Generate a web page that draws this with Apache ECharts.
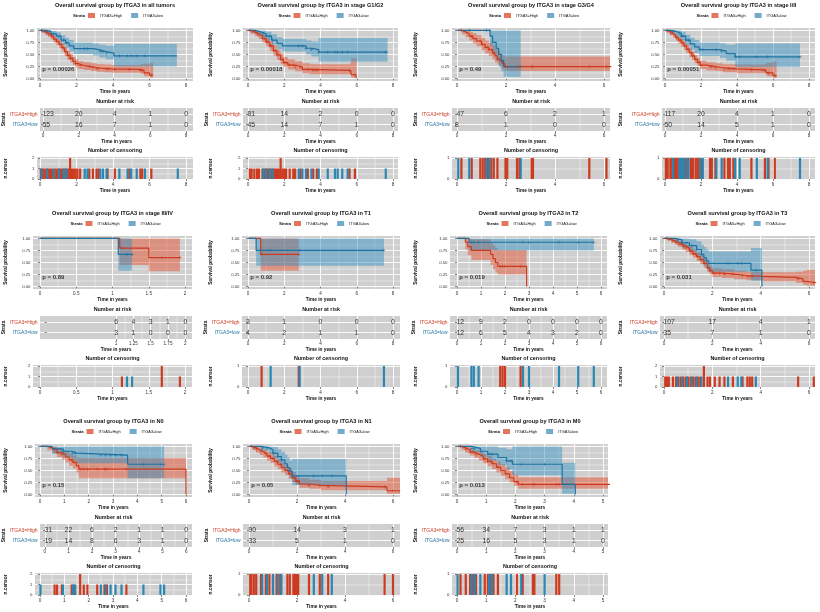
<!DOCTYPE html>
<html>
<head>
<meta charset="utf-8" />
<title>ITGA3 overall survival</title>
<script src="https://cdn.jsdelivr.net/npm/echarts@6.0.0/dist/echarts.min.js"></script>
<style>
html,body{margin:0;padding:0;background:#fff;}
#main{width:820px;height:612px;}
</style>
</head>
<body>
<div id="main"></div>
<script type="text/javascript">
var RED = '#CC3A1F', BLUE = '#1E72A0';
var RED_BAND = 'rgba(228,86,52,0.5)', BLUE_BAND = 'rgba(43,143,192,0.45)';
var FONT = 'Liberation Sans';
var PLUS = 'path://M4,0H6V4H10V6H6V10H4V6H0V4H4Z';

var titles = [
  'Overall survival group by ITGA3 in all tumors',
  'Overall survival group by ITGA3 in stage G1/G2',
  'Overall survival group by ITGA3 in stage G3/G4',
  'Overall survival group by ITGA3 in stage I/II',
  'Overall survival group by ITGA3 in stage III/IV',
  'Overall survival group by ITGA3 in T1',
  'Overall survival group by ITGA3 in T2',
  'Overall survival group by ITGA3 in T3',
  'Overall survival group by ITGA3 in N0',
  'Overall survival group by ITGA3 in N1',
  'Overall survival group by ITGA3 in M0'
];
var pvals = ['p = 0.00026', 'p = 0.00018', 'p = 0.49', 'p = 0.00051', 'p = 0.89', 'p = 0.92',
  'p = 0.019', 'p = 0.031', 'p = 0.15', 'p = 0.05', 'p = 0.013'];

var kmTicks = [
  [0, 2, 4, 6, 8], [0, 2, 4, 6, 8], [0, 2, 4, 6], [0, 2, 4, 6, 8],
  [0, 0.5, 1, 1.5, 2], [0, 2, 4, 6, 8], [0, 1, 2, 3, 4, 5, 6], [0, 2, 4, 6],
  [0, 1, 2, 3, 4, 5, 6], [0, 2, 4, 6], [0, 1, 2, 3, 4, 5]
];
var riskTicks = [
  [0, 2, 4, 6, 8], [0, 2, 4, 6, 8], [0, 2, 4, 6], [0, 2, 4, 6, 8],
  [1, 1.25, 1.5, 1.75, 2], [0, 2, 4, 6, 8], [0, 1, 2, 3, 4, 5, 6], [0, 2, 4, 6],
  [0, 1, 2, 3, 4, 5, 6], [0, 2, 4, 6], [0, 1, 2, 3, 4, 5]
];
var riskHigh = [
  [123, 20, 4, 1, 0], [81, 14, 2, 0, 0], [47, 6, 2, 1], [117, 20, 4, 1, 0],
  [6, 4, 3, 1, 0], [3, 1, 0, 0, 0], [12, 9, 2, 0, 0, 0, 0], [107, 17, 4, 1],
  [31, 22, 6, 2, 1, 1, 0], [90, 14, 3, 1], [56, 34, 7, 3, 1, 1]
];
var riskLow = [
  [55, 16, 7, 1, 0], [45, 14, 7, 1, 0], [8, 1, 0, 0], [50, 14, 5, 1, 0],
  [3, 1, 0, 0, 0], [4, 2, 1, 1, 0], [12, 6, 5, 4, 3, 2, 0], [35, 7, 1, 0],
  [19, 14, 8, 6, 3, 1, 0], [33, 5, 1, 0], [25, 16, 5, 3, 1, 0]
];
var censorMax = [2, 2, 1, 1, 2, 1, 1, 2, 2, 1, 1];

// survival curves: [time, survival, lower CI, upper CI]
var allHigh = [[0,1,1,1],[0.15,0.98,0.95,1],[0.3,0.95,0.91,0.99],[0.45,0.91,0.86,0.96],[0.6,0.87,0.81,0.93],[0.75,0.82,0.75,0.89],[0.9,0.77,0.69,0.85],[1.05,0.71,0.63,0.8],[1.2,0.64,0.56,0.73],[1.35,0.56,0.47,0.65],[1.5,0.48,0.39,0.57],[1.65,0.42,0.34,0.51],[1.8,0.36,0.28,0.45],[1.95,0.31,0.23,0.4],[2.1,0.27,0.2,0.36],[2.4,0.25,0.18,0.34],[2.8,0.23,0.16,0.32],[3.1,0.21,0.14,0.3],[3.5,0.2,0.13,0.29],[3.9,0.19,0.12,0.28],[5.5,0.17,0.1,0.3],[5.7,0.12,0.05,0.31],[6.0,0.07,0.02,0.33],[6.2,0.07,0.02,0.33]];
var allLow = [[0,1,1,1],[0.3,0.98,0.94,1],[0.6,0.93,0.87,0.99],[0.9,0.88,0.8,0.96],[1.15,0.8,0.71,0.9],[1.4,0.74,0.64,0.85],[1.6,0.68,0.57,0.8],[1.85,0.62,0.51,0.75],[2.9,0.6,0.48,0.73],[3.25,0.56,0.44,0.7],[3.6,0.53,0.4,0.68],[4.05,0.47,0.25,0.72],[7.5,0.47,0.25,0.72]];
var g12High = [[0,1,1,1],[0.2,0.97,0.93,1],[0.4,0.93,0.88,0.98],[0.6,0.89,0.82,0.96],[0.8,0.83,0.75,0.91],[1.0,0.76,0.67,0.85],[1.2,0.68,0.58,0.78],[1.4,0.58,0.48,0.69],[1.6,0.49,0.39,0.6],[1.8,0.4,0.3,0.52],[1.95,0.33,0.24,0.45],[2.2,0.28,0.19,0.4],[2.6,0.24,0.15,0.36],[3.0,0.19,0.11,0.32],[3.4,0.17,0.09,0.3],[5.65,0.16,0.08,0.34],[5.7,0.08,0.02,0.42],[5.95,0.03,0,0.42],[6.0,0.03,0,0.42]];
var g12Low = [[0,1,1,1],[0.4,0.97,0.92,1],[0.7,0.93,0.86,1],[1.0,0.88,0.79,0.97],[1.3,0.8,0.7,0.92],[1.6,0.73,0.61,0.86],[1.9,0.68,0.56,0.82],[3.2,0.63,0.5,0.79],[3.5,0.6,0.46,0.77],[3.9,0.55,0.35,0.84],[7.7,0.55,0.35,0.84]];
var g34High = [[0,1,1,1],[0.2,0.97,0.92,1],[0.35,0.93,0.86,1],[0.5,0.88,0.79,0.97],[0.65,0.83,0.73,0.94],[0.8,0.78,0.67,0.9],[1.0,0.71,0.59,0.84],[1.15,0.65,0.52,0.79],[1.3,0.6,0.47,0.75],[1.45,0.53,0.4,0.69],[1.55,0.47,0.34,0.63],[1.65,0.41,0.29,0.58],[1.75,0.36,0.24,0.53],[1.85,0.31,0.2,0.48],[1.95,0.25,0.16,0.46],[6.3,0.25,0.16,0.46]];
var g34Low = [[0,1,1,1],[1.35,0.88,0.66,1],[1.45,0.75,0.5,1],[1.6,0.63,0.37,1],[1.7,0.5,0.25,1],[1.8,0.38,0.15,1],[1.9,0.25,0.04,1],[2.6,0.25,0.04,1]];
var s12High = [[0,1,1,1],[0.15,0.98,0.95,1],[0.3,0.94,0.9,0.98],[0.45,0.9,0.85,0.95],[0.6,0.85,0.79,0.91],[0.75,0.8,0.73,0.87],[0.9,0.74,0.66,0.82],[1.05,0.68,0.6,0.77],[1.2,0.61,0.53,0.7],[1.35,0.54,0.45,0.63],[1.5,0.47,0.38,0.56],[1.65,0.4,0.32,0.49],[1.8,0.34,0.26,0.43],[1.95,0.28,0.2,0.37],[2.3,0.25,0.17,0.34],[2.8,0.23,0.16,0.32],[3.2,0.2,0.13,0.3],[4.0,0.18,0.11,0.29],[5.55,0.17,0.1,0.31],[5.65,0.12,0.05,0.33],[6.0,0.06,0.01,0.36],[6.2,0.06,0.01,0.36]];
var s12Low = [[0,1,1,1],[0.3,0.98,0.94,1],[0.6,0.94,0.87,1],[0.9,0.88,0.79,0.97],[1.15,0.8,0.69,0.91],[1.4,0.72,0.6,0.85],[1.65,0.66,0.53,0.8],[1.9,0.6,0.47,0.75],[3.05,0.57,0.43,0.73],[3.4,0.52,0.37,0.7],[3.9,0.45,0.24,0.73],[7.5,0.45,0.24,0.73]];
var s34High = [[0,1,1,1],[1.1,0.8,0.45,1],[1.5,0.6,0.32,1],[1.93,0.6,0.32,1]];
var s34Low = [[0,1,1,1],[1.08,0.67,0.33,1],[1.27,0.67,0.33,1]];
var t1High = [[0,1,1,1],[0.7,0.67,0.33,1],[2.8,0.67,0.33,1]];
var t1Low = [[0,1,1,1],[0.45,0.75,0.43,1],[7.5,0.75,0.43,1]];
var t2High = [[0,1,1,1],[0.35,0.92,0.77,1],[0.45,0.83,0.65,1],[0.6,0.75,0.55,0.98],[1.4,0.67,0.45,0.92],[1.5,0.58,0.36,0.86],[1.6,0.5,0.29,0.8],[1.7,0.42,0.25,0.76],[2.9,0,0,0]];
var t2Low = [[0,1,1,1],[0.5,0.92,0.75,1],[5.7,0.92,0.75,1]];
var t3High = [[0,1,1,1],[0.15,0.98,0.95,1],[0.3,0.95,0.91,0.99],[0.45,0.92,0.87,0.97],[0.6,0.88,0.82,0.94],[0.75,0.84,0.77,0.91],[0.9,0.8,0.72,0.87],[1.05,0.74,0.66,0.82],[1.2,0.68,0.6,0.77],[1.35,0.62,0.53,0.71],[1.5,0.56,0.47,0.65],[1.65,0.48,0.39,0.58],[1.8,0.39,0.3,0.49],[1.9,0.33,0.25,0.43],[2.0,0.28,0.2,0.38],[2.4,0.26,0.18,0.36],[2.9,0.23,0.15,0.33],[3.4,0.21,0.13,0.31],[4.1,0.19,0.11,0.3],[5.45,0.16,0.08,0.31],[5.75,0.11,0.04,0.33],[5.9,0.08,0.02,0.35],[6.3,0.08,0.02,0.35]];
var t3Low = [[0,1,1,1],[0.45,0.97,0.91,1],[0.75,0.91,0.81,1],[1.05,0.85,0.72,0.98],[1.35,0.77,0.62,0.94],[1.55,0.67,0.51,0.87],[1.65,0.6,0.43,0.82],[1.75,0.53,0.36,0.77],[1.85,0.48,0.31,0.73],[3.6,0.34,0.12,0.8],[4.05,0,0,0]];
var n0High = [[0,1,1,1],[0.3,0.97,0.92,1],[0.5,0.93,0.86,1],[0.7,0.87,0.78,0.96],[0.9,0.83,0.73,0.93],[1.05,0.78,0.67,0.9],[1.2,0.72,0.6,0.85],[1.35,0.67,0.54,0.81],[1.5,0.6,0.46,0.77],[1.6,0.53,0.34,0.76],[6.0,0,0,0]];
var n0Low = [[0,1,1,1],[0.5,0.95,0.85,1],[0.95,0.9,0.77,1],[1.3,0.86,0.71,1],[1.5,0.82,0.65,1],[3.6,0.63,0.34,1],[5.1,0.63,0.34,1]];
var n1High = [[0,1,1,1],[0.15,0.97,0.93,1],[0.3,0.93,0.87,0.99],[0.45,0.89,0.82,0.96],[0.6,0.85,0.77,0.93],[0.75,0.8,0.71,0.89],[0.9,0.75,0.66,0.85],[1.05,0.69,0.59,0.8],[1.2,0.63,0.53,0.74],[1.35,0.56,0.46,0.67],[1.5,0.5,0.4,0.62],[1.65,0.43,0.33,0.55],[1.8,0.35,0.26,0.47],[1.95,0.28,0.2,0.4],[2.1,0.22,0.14,0.34],[2.5,0.19,0.12,0.31],[3.0,0.16,0.09,0.28],[5.75,0.08,0.02,0.35],[6.3,0.08,0.02,0.35]];
var n1Low = [[0,1,1,1],[0.5,0.97,0.91,1],[0.85,0.93,0.84,1],[1.0,0.86,0.75,0.99],[1.2,0.79,0.66,0.94],[1.35,0.72,0.58,0.89],[1.5,0.64,0.49,0.83],[1.6,0.56,0.41,0.77],[1.7,0.48,0.33,0.7],[1.8,0.39,0.2,0.74],[4.05,0,0,0]];
var m0High = [[0,1,1,1],[0.15,0.97,0.93,1],[0.3,0.93,0.87,0.99],[0.45,0.88,0.81,0.95],[0.6,0.84,0.76,0.92],[0.75,0.8,0.71,0.89],[0.9,0.74,0.65,0.84],[1.05,0.69,0.59,0.8],[1.2,0.64,0.53,0.75],[1.35,0.57,0.46,0.69],[1.5,0.5,0.39,0.63],[1.65,0.43,0.32,0.56],[1.8,0.35,0.25,0.49],[1.95,0.27,0.18,0.41],[2.1,0.21,0.12,0.36],[5.3,0.21,0.12,0.36]];
var m0Low = [[0,1,1,1],[0.5,0.96,0.88,1],[0.8,0.9,0.78,1],[1.05,0.84,0.7,1],[1.4,0.77,0.61,0.97],[1.7,0.7,0.52,0.94],[1.9,0.63,0.4,1],[3.6,0.21,0.02,0.66],[4.05,0,0,0]];

// censoring times (n = 1 unless given as [time, n])
var allHighCens = [0.05,0.15,0.25,0.35,0.45,0.55,0.65,0.8,0.9,1.0,1.1,1.2,1.3,1.4,1.5,1.6,[1.65,2],1.75,1.85,1.95,2.05,2.2,2.7,2.9,3.1,3.2,3.7,4.1,4.9,5.5,5.6,6.1];
var allLowCens = [0.08,0.4,0.75,1.05,1.3,1.45,2.45,2.6,3.3,3.45,3.65,4.35,4.8,5.0,5.3,5.75,7.55];
var g12HighCens = [0.1,0.2,0.35,0.5,0.6,0.8,0.9,1.0,1.1,1.2,1.3,1.4,1.5,1.6,1.7,[1.8,2],1.9,2.0,2.1,2.3,2.5,2.6,2.9,3.3,3.6,3.8,5.6,5.9];
var g12LowCens = [0.85,1.0,1.2,1.35,2.8,3.0,3.2,3.5,3.9,4.4,4.8,4.95,5.2,5.5,7.6];
var g34HighCens = [0.18,0.6,0.95,1.05,1.15,1.25,1.3,1.4,1.5,1.65,1.98,2.05,2.45,2.55,3.05,3.1,5.4,6.1];
var g34LowCens = [0.05,0.5,1.2,1.33,2.6];
var s12HighCens = [0.05,0.15,0.3,0.4,0.55,0.65,0.75,0.85,1.0,1.1,1.2,1.3,1.45,1.55,1.7,1.8,1.9,2.0,2.5,2.6,2.8,3.3,3.5,3.6,3.8,4.8,5.55,5.75,6.1];
var s12LowCens = [0.45,0.8,0.9,1.0,1.15,1.3,1.95,2.1,2.85,3.15,3.9,4.15,5.1,5.7,7.5];
var s34HighCens = [1.13,[1.68,2],1.93];
var s34LowCens = [1.2,1.27];
var t1HighCens = [0.75,2.8];
var t1LowCens = [1.25,2.85,7.5];
var t2HighCens = [1.8,1.9,2.0,2.65];
var t2LowCens = [0.04,0.6,0.7,0.9,2.75,3.0,4.25,5.05,5.7];
var t3HighCens = [0.05,0.12,0.2,0.37,0.5,0.6,0.7,0.8,0.9,1.0,1.1,1.2,1.3,1.4,1.5,[1.65,2],1.8,1.9,2.1,2.3,2.5,2.85,3.25,3.45,3.55,3.65,5.55,6.2];
var t3LowCens = [0.55,0.75,0.95,1.15,1.35,1.55,2.65,3.05,3.2,3.8];
var n0HighCens = [0.6,0.7,0.9,1.3,1.4,[1.65,2],1.8,1.95,2.35,2.65,2.75,3.55];
var n0LowCens = [0.02,0.95,1.35,1.45,2.5,2.7,2.9,3.1,3.35,4.25,4.95,5.1];
var n1HighCens = [0.05,0.1,0.2,0.3,0.5,0.7,0.85,1.0,1.15,1.3,1.6,1.7,1.85,1.9,1.95,2.0,2.05,2.5,2.95,3.3,5.65,6.0];
var n1LowCens = [0.55,0.75,1.0,1.2,1.35,2.7,3.05,3.45];
var m0HighCens = [0.12,0.3,0.45,0.55,0.65,0.95,1.05,1.15,1.25,1.4,2.05,2.25,2.6,2.65,3.4,3.5];
var m0LowCens = [0.02,0.5,0.6,0.8,1.1,1.2,1.7,1.85,2.2,3.0];

var highCurves = [allHigh, g12High, g34High, s12High, s34High, t1High, t2High, t3High, n0High, n1High, m0High];
var lowCurves = [allLow, g12Low, g34Low, s12Low, s34Low, t1Low, t2Low, t3Low, n0Low, n1Low, m0Low];
var highCens = [allHighCens, g12HighCens, g34HighCens, s12HighCens, s34HighCens, t1HighCens, t2HighCens, t3HighCens, n0HighCens, n1HighCens, m0HighCens];
var lowCens = [allLowCens, g12LowCens, g34LowCens, s12LowCens, s34LowCens, t1LowCens, t2LowCens, t3LowCens, n0LowCens, n1LowCens, m0LowCens];

// panel layout: origin x, origin y, plot left, plot right, pixel of x=0, pixel of last tick
var panels = [
  [0, 0, 37, 193, 40, 186], [205, 0, 243, 398, 248, 393], [410, 0, 452, 610, 457, 604], [615, 0, 662, 815, 665, 809],
  [0, 208, 33, 192, 40, 185], [205, 208, 242, 400, 248, 393], [410, 208, 450, 607, 457, 601], [615, 208, 660, 815, 664, 809],
  [0, 416, 35, 192, 40, 186], [205, 416, 243, 400, 249, 393], [410, 416, 452, 608, 457, 603]
];

var option = { animation: false, title: [], legend: [], grid: [], xAxis: [], yAxis: [], series: [] };

function mids(a) {
  var r = [];
  for (var i = 0; i < a.length - 1; i++) r.push((a[i] + a[i + 1]) / 2);
  return r;
}
function txt(size, bold) {
  return { fontSize: size, fontWeight: bold ? 'bold' : 'normal', color: '#111', fontFamily: FONT };
}
function toPairs(list) {
  return list.map(function (v) { return typeof v === 'number' ? [v, 1] : v; });
}
// survival value of a step curve at time t
function survAt(c, t) {
  var s = c[0][1];
  for (var k = 0; k < c.length; k++) { if (c[k][0] <= t) s = c[k][1]; }
  return s;
}

function addGrid(box, xr, xMajor, yr, yMajor, yMinor, yName, yGap, yFmt, yRich) {
  var g = option.grid.length;
  option.grid.push({ left: box[0], top: box[1], width: box[2], height: box[3], show: true,
    backgroundColor: '#cfcfcf', borderWidth: 0 });
  var xi = option.xAxis.length;
  option.xAxis.push({
    type: 'value', gridIndex: g, min: xr[0], max: xr[1], position: 'bottom',
    axisLine: { show: false },
    axisTick: { show: true, length: 2, customValues: xMajor, lineStyle: { color: '#333', width: 0.6 } },
    axisLabel: { customValues: xMajor, fontSize: 4.6, color: '#333', margin: 2.5, fontFamily: FONT },
    splitLine: { show: true, lineStyle: { color: '#fff', width: 0.9 } },
    name: 'Time in years', nameLocation: 'middle', nameGap: 8.5, nameTextStyle: txt(4.8, true)
  });
  option.xAxis.push({
    type: 'value', gridIndex: g, min: xr[0], max: xr[1], position: 'top',
    axisLine: { show: false }, axisLabel: { show: false },
    axisTick: { show: false, customValues: mids(xMajor) },
    splitLine: { show: true, lineStyle: { color: '#fff', width: 0.45 } }
  });
  var yi = option.yAxis.length;
  var lab = { customValues: yMajor, fontSize: 4.3, color: '#333', margin: 2.5, fontFamily: FONT };
  if (yFmt) lab.formatter = yFmt;
  if (yRich) lab.rich = yRich;
  option.yAxis.push({
    type: 'value', gridIndex: g, min: yr[0], max: yr[1], position: 'left',
    axisLine: { show: false },
    axisTick: { show: true, length: 2, customValues: yMajor, lineStyle: { color: '#333', width: 0.6 } },
    axisLabel: lab,
    splitLine: { show: true, lineStyle: { color: '#fff', width: 0.9 } },
    name: yName, nameLocation: 'middle', nameRotate: 90, nameGap: yGap, nameTextStyle: txt(4.8, true)
  });
  if (yMinor.length) {
    option.yAxis.push({
      type: 'value', gridIndex: g, min: yr[0], max: yr[1], position: 'right',
      axisLine: { show: false }, axisLabel: { show: false },
      axisTick: { show: false, customValues: yMinor },
      splitLine: { show: true, lineStyle: { color: '#fff', width: 0.45 } }
    });
  }
  return { x: xi, y: yi };
}

function bandSeries(c, color, ax) {
  return {
    type: 'custom', xAxisIndex: ax.x, yAxisIndex: ax.y, silent: true, z: 2, clip: true,
    data: [[c[0][0], c[0][1]]],
    renderItem: function (params, api) {
      var up = [], dn = [];
      for (var k = 0; k < c.length - 1; k++) {
        up.push(api.coord([c[k][0], c[k][3]]), api.coord([c[k + 1][0], c[k][3]]));
        dn.push(api.coord([c[k][0], c[k][2]]), api.coord([c[k + 1][0], c[k][2]]));
      }
      return { type: 'polygon', shape: { points: up.concat(dn.reverse()) }, style: { fill: color } };
    }
  };
}

function lineSeries(name, c, color, ax) {
  return {
    type: 'line', name: name, xAxisIndex: ax.x, yAxisIndex: ax.y, step: 'end', silent: true,
    showSymbol: false, symbol: 'none', z: 3,
    data: c.map(function (r) { return [r[0], r[1]]; }),
    lineStyle: { color: color, width: 1.2 }, itemStyle: { color: color }
  };
}

// small "+" marks on a curve at its censoring times
function plusSeries(c, cens, color, ax) {
  var tEnd = c[c.length - 1][0];
  var pts = toPairs(cens).filter(function (p) { return p[0] > 0.05 && p[0] <= tEnd; })
    .map(function (p) { return [p[0], survAt(c, p[0])]; });
  return {
    type: 'scatter', xAxisIndex: ax.x, yAxisIndex: ax.y, silent: true, z: 4,
    symbol: PLUS, symbolSize: 3.2, itemStyle: { color: color }, data: pts
  };
}

function riskSeries(times, vals, row, ax) {
  return {
    type: 'scatter', xAxisIndex: ax.x, yAxisIndex: ax.y, silent: true, symbolSize: 1, z: 3,
    itemStyle: { color: 'rgba(0,0,0,0)' },
    label: { show: true, position: 'inside', formatter: function (p) { return p.value[2]; },
      fontSize: 6.8, color: '#000', fontFamily: FONT, textBorderWidth: 0 },
    data: times.map(function (t, k) {
      var d = { value: [t, row, vals[k]] };
      if (k === 0 && String(vals[k]).length > 1) d.label = { position: 'right', distance: -1 };
      return d;
    })
  };
}

function censSeries(list, color, ax) {
  return {
    type: 'custom', xAxisIndex: ax.x, yAxisIndex: ax.y, silent: true, z: 3, clip: true,
    data: toPairs(list),
    renderItem: function (params, api) {
      var p0 = api.coord([api.value(0), 0]);
      var p1 = api.coord([api.value(0), api.value(1)]);
      return { type: 'rect', shape: { x: p0[0] - 1.1, y: p1[1], width: 2.2, height: p0[1] - p1[1] },
        style: { fill: color } };
    }
  };
}

var riskRich = { h: { color: RED, fontSize: 5, fontFamily: FONT }, l: { color: BLUE, fontSize: 5, fontFamily: FONT } };

for (var i = 0; i < panels.length; i++) {
  var P = panels[i], ox = P[0], oy = P[1], gl = P[2], gr = P[3];
  var ticks = kmTicks[i], tN = ticks[ticks.length - 1];
  var u = tN / (P[5] - P[4]);
  var xr = [(gl - P[4]) * u, (gr - P[4]) * u];
  var w = gr - gl, cx = (gl + gr) / 2, gap = gl - ox - 8;

  option.title.push({ text: titles[i], left: cx, top: oy + 2, textAlign: 'center', padding: 0, textStyle: txt(5.6, true) });
  option.title.push({ text: 'Strata', left: cx - 42, top: oy + 13.5, padding: 0, textStyle: txt(4.3, true) });
  option.title.push({ text: 'Number at risk', left: cx, top: oy + 99, textAlign: 'center', padding: 0, textStyle: txt(5.4, true) });
  option.title.push({ text: 'Number of censoring', left: cx, top: oy + 148, textAlign: 'center', padding: 0, textStyle: txt(5.4, true) });
  option.legend.push({
    left: cx - 27, top: oy + 13, padding: 0, itemWidth: 7, itemHeight: 5, itemGap: 9, selectedMode: false,
    textStyle: { fontSize: 4, color: '#111', fontFamily: FONT },
    data: [{ name: 'ITGA3=High', icon: 'rect', itemStyle: { color: '#E2775E' } },
           { name: 'ITGA3=low', icon: 'rect', itemStyle: { color: '#72AACA' } }]
  });

  // survival curves
  var km = addGrid([gl, oy + 28, w, 53], xr, ticks, [-0.05, 1.05], [0, 0.25, 0.5, 0.75, 1],
    [0.125, 0.375, 0.625, 0.875], 'Survival probability', gap, function (v) { return v.toFixed(2); });
  option.series.push(bandSeries(highCurves[i], RED_BAND, km));
  option.series.push(bandSeries(lowCurves[i], BLUE_BAND, km));
  option.series.push(lineSeries('ITGA3=High', highCurves[i], RED, km));
  option.series.push(lineSeries('ITGA3=low', lowCurves[i], BLUE, km));
  option.series.push(plusSeries(highCurves[i], highCens[i], RED, km));
  option.series.push(plusSeries(lowCurves[i], lowCens[i], BLUE, km));
  option.series.push({
    type: 'scatter', xAxisIndex: km.x, yAxisIndex: km.y, silent: true, symbolSize: 1, z: 5,
    itemStyle: { color: 'rgba(0,0,0,0)' },
    label: { show: true, position: 'right', distance: 0, formatter: pvals[i], fontSize: 6, fontWeight: 'bold',
      color: '#111', fontFamily: FONT },
    data: [[tN * 0.012, 0.2]]
  });

  // number at risk
  var rk = addGrid([gl, oy + 108, w, 23], xr, riskTicks[i], [0.4, 2.6], [1, 2], [], 'Strata', gap,
    function (v) { return v === 2 ? '{h|ITGA3=High}' : '{l|ITGA3=low}'; }, riskRich);
  option.series.push(riskSeries(riskTicks[i], riskHigh[i], 2, rk));
  option.series.push(riskSeries(riskTicks[i], riskLow[i], 1, rk));

  // number of censoring
  var m = censorMax[i], cm = [], k;
  for (k = 0; k <= m; k++) cm.push(k);
  var cs = addGrid([gl, oy + 157, w, 23], xr, ticks, [-0.05 * m, 1.05 * m], cm, mids(cm), 'n.censor', gap, null);
  option.series.push(censSeries(highCens[i], RED, cs));
  option.series.push(censSeries(lowCens[i], '#2A86B3', cs));
}

var chart = echarts.init(document.getElementById('main'));
chart.setOption(option);
</script>
</body>
</html>
